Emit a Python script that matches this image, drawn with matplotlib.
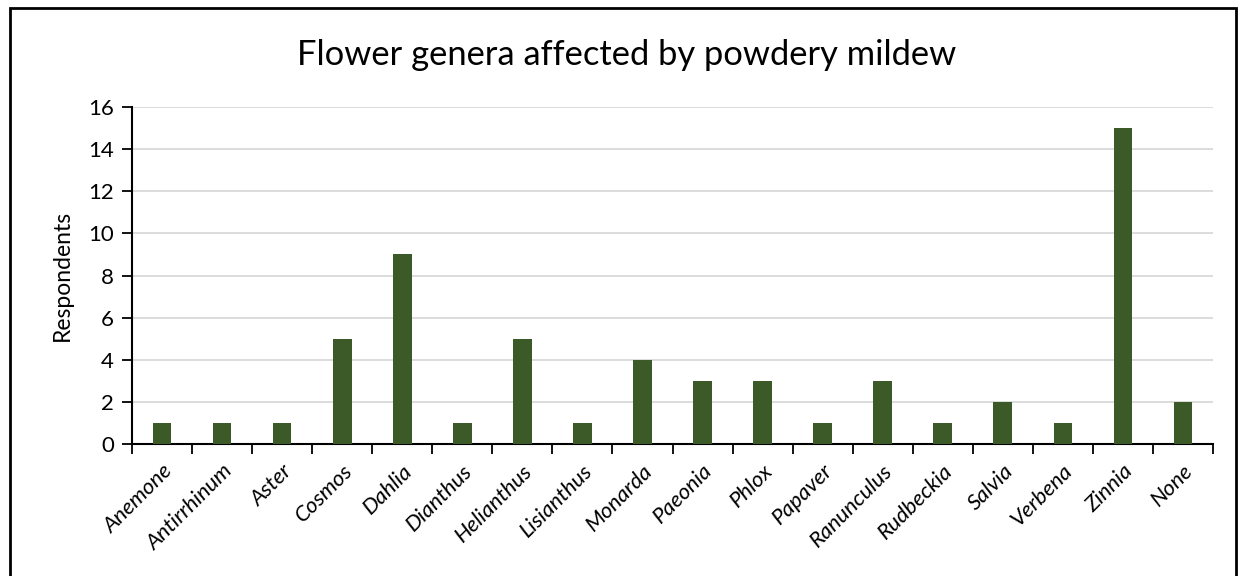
import matplotlib
matplotlib.use("Agg")
import matplotlib.pyplot as plt
from matplotlib.patches import Rectangle

genera = ["Anemone", "Antirrhinum", "Aster", "Cosmos", "Dahlia", "Dianthus",
          "Helianthus", "Lisianthus", "Monarda", "Paeonia", "Phlox", "Papaver",
          "Ranunculus", "Rudbeckia", "Salvia", "Verbena", "Zinnia", "None"]
respondents = [1, 1, 1, 5, 9, 1, 5, 1, 4, 3, 3, 1, 3, 1, 2, 1, 15, 2]
y_ticks = [0, 2, 4, 6, 8, 10, 12, 14, 16]

plt.rcParams['font.family'] = ['Lato', 'DejaVu Sans']

W, H = 1238, 576
fig = plt.figure(figsize=(W / 100, H / 100), dpi=100)
ax = fig.add_axes([132 / W, 1 - 444 / H, (1213 - 132) / W, (444 - 107) / H])

x = list(range(len(genera)))
ax.bar(x, respondents, width=0.31, color="#3B5A27", zorder=3)

ax.set_xlim(-0.5, len(genera) - 0.5)
ax.set_ylim(0, 16)
ax.set_yticks(y_ticks)
ax.set_yticklabels([str(v) for v in y_ticks], fontsize=16)
ax.yaxis.grid(True, color="#d9d9d9", linewidth=1.3, zorder=0)
ax.set_axisbelow(True)

ax.set_xticks([i - 0.5 for i in range(len(genera) + 1)])
ax.set_xticklabels([])
ax.tick_params(axis="x", length=7, width=1.3, color="black", direction="out")
ax.tick_params(axis="y", length=7, width=1.3, color="black", direction="out", pad=6)
ax.set_xticks(x, minor=True)
ax.set_xticklabels(genera, minor=True, rotation=45, ha="right", va="top",
                   rotation_mode="anchor", fontsize=16, style="italic")
ax.tick_params(axis="x", which="minor", length=0, pad=12)

for side in ("top", "right"):
    ax.spines[side].set_visible(False)
for side in ("left", "bottom"):
    ax.spines[side].set_linewidth(1.5)

ax.set_ylabel("Respondents", fontsize=16.5, labelpad=11)
fig.text(627 / W, 1 - 55 / H, "Flower genera affected by powdery mildew",
         ha="center", va="center", fontsize=24.8)

fig.patches.append(Rectangle((10 / W, -0.01), (1236 - 10) / W, 1 - 8 / H + 0.01,
                             transform=fig.transFigure, fill=False,
                             edgecolor="black", linewidth=2))

fig.savefig("out.png", dpi=100)
